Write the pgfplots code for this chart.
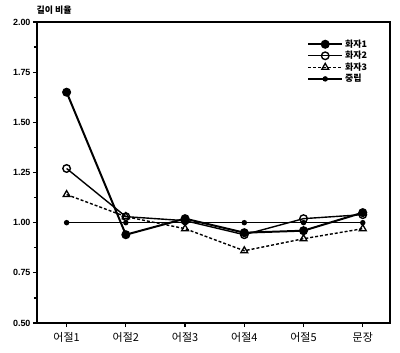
\documentclass[border=0pt]{standalone}
\usepackage{fontspec}
\setmainfont{Liberation Sans}
\newfontfamily\cjk{Noto Sans CJK KR}
\usepackage{pgfplots}
\pgfplotsset{compat=1.18}
\begin{document}
\begin{tikzpicture}
\useasboundingbox (-37bp,-30bp) rectangle (363bp,323bp);
\begin{axis}[
  at={(0,0)}, anchor=south west,
  scale only axis, width=353bp, height=301bp,
  xmin=-0.5, xmax=5.46, ymin=0.5, ymax=2.0,
  xtick={0,1,2,3,4,5},
  xticklabels={어절1,어절2,어절3,어절4,어절5,문장},
  xticklabel style={font=\cjk\fontsize{11}{12}\selectfont, yshift=-2bp},
  ytick={0.5,0.75,1.0,1.25,1.5,1.75,2.0},
  yticklabels={0.50,0.75,1.00,1.25,1.50,1.75,2.00},
  yticklabel style={font=\bfseries\fontsize{9}{10}\selectfont, xshift=1bp},
  minor y tick num=1,
  tick align=outside,
  major tick length=4bp, minor tick length=3bp,
  tick style={black, line width=1.2pt},
  xtick pos=bottom, ytick pos=left,
  axis line style={line width=1.8pt},
  legend style={draw=none, fill=none, at={(0.95,0.955)}, anchor=north east,
    font=\cjk\bfseries\fontsize{9}{10}\selectfont, row sep=-1.5pt},
  legend cell align=left,
  legend image code/.code={
    \draw[mark repeat=2, mark phase=2, #1] plot coordinates {(0bp,0bp) (17bp,0bp) (34bp,0bp)};
  },
  clip=false,
]
\addplot[black, line width=2pt, mark=*, mark size=3.5pt] coordinates {(0,1.65) (1,0.94) (2,1.02) (3,0.95) (4,0.96) (5,1.05)};
\addlegendentry{화자1}
\addplot[black, line width=1.4pt, mark=o, mark size=3.8pt, mark options={fill=white, solid, line width=1.4pt}] coordinates {(0,1.27) (1,1.03) (2,1.01) (3,0.94) (4,1.02) (5,1.04)};
\addlegendentry{화자2}
\addplot[black, line width=1.4pt, densely dashed, mark=triangle, mark size=4pt, mark options={solid, line width=1.3pt}] coordinates {(0,1.14) (1,1.03) (2,0.97) (3,0.86) (4,0.92) (5,0.97)};
\addlegendentry{화자3}
\addplot[black, line width=1.4pt, mark=*, mark size=2pt] coordinates {(0,1.00) (1,1.00) (2,1.00) (3,1.00) (4,1.00) (5,1.00)};
\addlegendentry{중립}
\end{axis}
\node[anchor=west, font=\cjk\bfseries\fontsize{9}{10}\selectfont] at (-4bp,313bp) {길이 비율};
\end{tikzpicture}
\end{document}
